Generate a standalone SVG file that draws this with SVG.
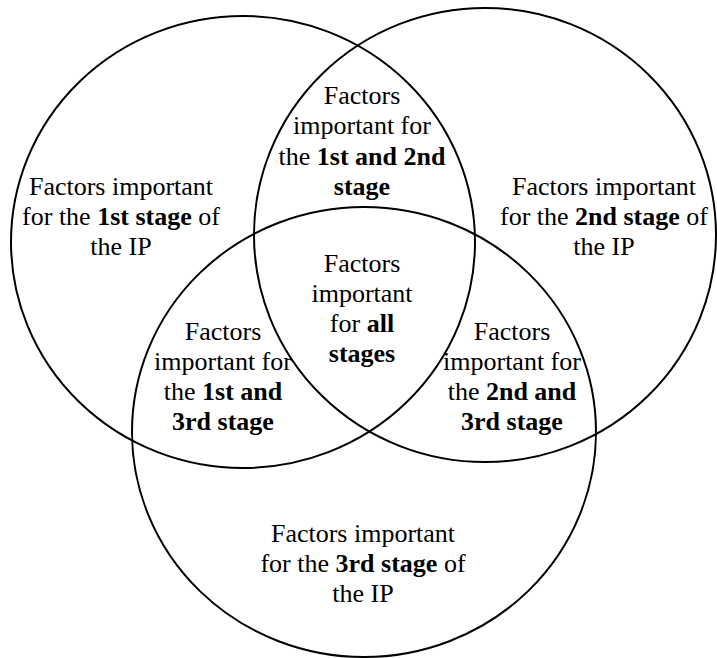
<svg xmlns="http://www.w3.org/2000/svg" width="717" height="658" viewBox="0 0 717 658">
  <style>
    .set { fill: none; stroke: #000; stroke-width: 2; }
    .lbl { font-family: "Liberation Serif", "Times New Roman", serif; font-size: 26px; fill: #000; text-anchor: middle; }
    .b { font-weight: bold; }
  </style>
  <rect width="717" height="658" fill="#fff"/>

  <!-- the three overlapping sets -->
  <g id="sets">
    <ellipse id="set-stage1" class="set" cx="243" cy="242" rx="232" ry="226"/>
    <ellipse id="set-stage2" class="set" cx="485" cy="235" rx="231" ry="227"/>
    <ellipse id="set-stage3" class="set" cx="364" cy="432" rx="232" ry="225"/>
  </g>

  <!-- region labels -->
  <g id="only-stage1">
    <text class="lbl" x="121" y="195">Factors important</text>
    <text class="lbl" x="121" y="225">for the <tspan class="b">1st stage</tspan> of</text>
    <text class="lbl" x="121" y="255">the IP</text>
  </g>

  <g id="only-stage2">
    <text class="lbl" x="604" y="195">Factors important</text>
    <text class="lbl" x="604" y="225">for the <tspan class="b">2nd stage</tspan> of</text>
    <text class="lbl" x="604" y="255">the IP</text>
  </g>

  <g id="only-stage3">
    <text class="lbl" x="363" y="542">Factors important</text>
    <text class="lbl" x="363" y="572">for the <tspan class="b">3rd stage</tspan> of</text>
    <text class="lbl" x="363" y="602">the IP</text>
  </g>

  <g id="stages-1-2">
    <text class="lbl" x="362" y="104">Factors</text>
    <text class="lbl" x="362" y="134">important for</text>
    <text class="lbl" x="362" y="165">the <tspan class="b">1st and 2nd</tspan></text>
    <text class="lbl b" x="362" y="195">stage</text>
  </g>

  <g id="stages-1-3">
    <text class="lbl" x="223" y="340">Factors</text>
    <text class="lbl" x="223" y="370">important for</text>
    <text class="lbl" x="223" y="400">the <tspan class="b">1st and</tspan></text>
    <text class="lbl b" x="223" y="430">3rd stage</text>
  </g>

  <g id="stages-2-3">
    <text class="lbl" x="512" y="340">Factors</text>
    <text class="lbl" x="512" y="370">important for</text>
    <text class="lbl" x="512" y="400">the <tspan class="b">2nd and</tspan></text>
    <text class="lbl b" x="512" y="430">3rd stage</text>
  </g>

  <g id="all-stages">
    <text class="lbl" x="362" y="272">Factors</text>
    <text class="lbl" x="362" y="302">important</text>
    <text class="lbl" x="362" y="332">for <tspan class="b">all</tspan></text>
    <text class="lbl b" x="362" y="362">stages</text>
  </g>
</svg>
